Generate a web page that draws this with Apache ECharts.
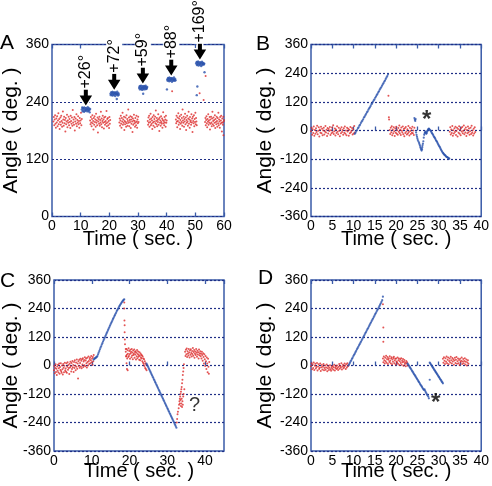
<!DOCTYPE html>
<html><head><meta charset="utf-8">
<script src="https://cdn.jsdelivr.net/npm/echarts@6/dist/echarts.min.js"></script>
<style>html,body{margin:0;padding:0;background:#fff}#c{width:492px;height:486px}</style>
</head><body><div id="c"></div>
<script>
// ---------- Panel A ----------
const aRedSpans = [[0.5,10.4],[13.3,20.3],[23.5,30.2],[33.4,40],[43.2,50.5],[53.4,60]];
const aRed1 = [199,208,191,203,212,194,186,205,197,210,189,201,216,193,204,183,198,207,192,211,200,188,196,220,203,190,209,195,202,178,206,193,199,213,187,201,196,209,191,204,198,185,211,200,194,207,190,223,197,203,192,208,180,199,205,194,214,189,202,197,210,193,200,186,206,195,201,217,191,204];
const aRed2 = [201,193,208,197,189,204,212,195,200,182,206,192,210,198,203,188,215,196,201,191,207,176,199,204,194,209,190,202,197,219,193,205,187,200,211,196,203,184,207,198,192,209,200,195,221,189,204,197,206,191,200,185,208,194,202];
const aRed3 = [197,205,190,201,211,194,186,206,199,217,192,203,196,209,181,200,193,207,198,188,212,195,204,190,200,224,196,207,189,202,198,210,185,203,194,208,199,177,205,192,201,213,195,200,188,206,197,191,211,199,186,203,195,209,198];
const aRed4 = [200,192,207,196,211,188,203,198,215,191,205,194,201,183,208,197,190,212,199,204,187,209,195,222,200,193,206,189,202,198,214,192,204,179,207,196,201,190,210,198,194,205,186,202,218,195,200,191,208,197,203,188,211,196,201];
const aRed5 = [203,195,211,199,187,207,200,216,192,205,197,210,183,202,194,213,198,206,190,224,201,196,209,188,204,199,215,193,207,181,202,196,211,199,190,205,219,194,203,186,208,198,201,192,214,197,205,177,209,200,195,212,189,204,198,217,193,206,199,191];
const aRed6 = [198,206,191,202,210,195,187,204,199,214,192,201,196,208,182,203,194,209,197,189,205,219,193,200,207,190,202,196,212,185,204,198,193,209,200,188,206,195,217,191,203,199,186,208,194,201,211,196,178,205,197,192,209,199,202];
const aRedOut = [[51.5,258],[53.6,294],[52.9,244],[41.9,262],[59.8,170]];
const aBlueSpans = [[10.4,13.3],[20.4,23.3],[30.4,33.2],[40.2,43.1],[50.3,53.1]];
const aBlue1 = [224,228,220,227,222,226,219,229,224,221,227,223,230,225,220,224,228,221,226,223,218,225];
const aBlue2 = [257,254,260,256,259,253,261,257,254,259,256,260,252,257,259,255,256,261,257,253,258,255];
const aBlue3 = [269,272,266,273,270,267,274,269,265,272,270,267,273,269,266,272,270,274,267,270,268,271];
const aBlue4 = [287,284,290,286,289,283,291,287,284,289,286,290,282,287,289,284,286,291,287,284,288,285];
const aBlue5 = [320,323,317,324,319,322,316,325,320,317,323,319,322,315,320,324,317,322,319,321,318,320];
const aBlueOut = [[22.6,246],[31.8,257],[40.1,266],[50.5,254],[50.7,272],[53.2,302]];
const aArrowT = [11.8, 21.7, 31.7, 41.6, 51.6];
const aArrowY = [224, 257, 270, 287, 320];
const aArrowLabels = ['+26°', '+72°', '+59°', '+88°', '+169°'];

// ---------- Panel B ----------
const bRed1 = [-3,12,-18,5,-10,17,-22,2,-14,9,-6,20,-16,-1,14,-25,4,-9,16,-12,7,-20,0,11,-17,-4,19,-8,3,-23,10,-13,6,-2,15,-19,1,-11,13,-7,22,-15,-3,8,-21,4,-10,18,-5,-16,11,-1,-24,6,-12,14,-6,2,-18,9,-9,17,-14,0,-20,12,-4,7,-22,3,-11,15,-7,-1,10,-17,5,-13,19,-8];
const bRed2 = [2,-15,11,-7,18,-20,4,-11,14,-3,-23,8,-9,16,-14,1,-18,10,-5,21,-12,3,-19,13,-1,-8,17,-16,6,-24,9,-10,15,-4,-17,5,-13,19,-6,-21,11,-2,-15,7,-9,16,-11,0,-19,12];
const bRed3 = [-5,14,-17,4,-10,19,-22,1,-13,9,-6,16,-19,-2,12,-25,6,-9,18,-14,3,-20,10,-4,15,-11,-1,21,-16,5,-8,13,-23,2,-12,17,-7,8,-18,-3,11,-15,20,-9,0,-21,7,-13,14,-6];
const bRedSpans = [[0,10.3],[18.5,24.3],[32.6,38.6]];
const bRedOut = [[18.2,145],[18.3,55],[18.35,46]];
const bRamp = [-14,-9,-2,2,9,13,20,24,31,37,41,47,54,58,64,70,76,80,87,93,97,103,110,113,120,126,130,137,142,148,153,160,164,171,176,181,187,193,198,205,209,216,222,228,235];
const bRampSpan = [10.3,18.1];
const bBlueMid = [[24.3,52],[24.4,45],[24.5,40],[24.6,48],[24.7,-8],[24.8,-18],[24.9,-26],[25.0,-33],[25.1,-40],[25.25,-46],[25.4,-52],[25.5,-58],[25.6,-63],[25.7,-70],[25.8,-75],[25.9,-80],[26.0,-84],[26.1,-78],[26.15,-70],[26.2,-62],[26.3,-55],[26.4,-45],[26.5,-30],[26.6,-18],[26.7,-12],[26.8,-8],[26.9,-5],[27.0,-9],[27.1,-14],[27.2,-10],[27.3,-4],[27.4,0],[27.5,3],[27.6,6],[27.7,8]];
const bDesc = [5,3,0,-3,-8,-12,-15,-19,-24,-28,-31,-36,-41,-44,-48,-53,-58,-62,-66,-70,-75,-80,-84,-88,-92,-95,-98,-101,-103,-105,-108,-110,-111,-113,-115,-117,-118];
const bDescSpan = [27.8,32.5];

// ---------- Panel C ----------
const cRed1 = [-20,-2,-33,-10,5,-27,-14,-40,-4,-22,3,-29,-12,8,-35,-6,-19,10,-24,-31,0,-16,-38,6,-9,-28,-1,12,-21,-13,-26,9,-30,-5,14,-18,2,-11,-36,7,-8,16,-3,-25,11,-15,19,-7,2,-27,15,-10,22,-1,-20,13,-5,25,-14,8,-55,18,-2,24,-9,11,28,-4,20,-12,26,4,31,-6,17,23,1,35,-3,21,29,9,-8,33,15,0,38,19,6,27,34,10,22,40,14,30,3,36,18,44];
const cRed2 = [58,38,70,45,30,64,50,36,73,40,61,47,28,66,52,58,35,69,42,55,26,63,44,50,67,33,57,46,60,25,54,39,65,31,48,59,37,44,24,56,40,22,51,33,45,30,42,18,38,12,30,6,26,-2,18,-10,10,-15,4,-20];
const cRed3 = [58,40,66,47,72,36,60,51,42,70,55,34,63,45,68,53,38,61,48,74,41,57,65,33,50,59,44,69,54,37,62,46,56,30,67,43,52,60,39,49,30,58,44,20,52,36,8,47,26,-2,40,18,-15,34,8,-28,28,-5,-35,15];
const cRedSpans = [[0,10.5],[19.0,24.5],[34.7,41.1]];
const cRedOut = [[18.6,265],[18.6,240],[18.65,190],[18.7,170],[18.7,140],[18.75,110],[18.8,90],[19.0,70],[19.1,40],[19.2,10],[19.3,-15],[19.5,-20],
  [32.5,-240],[32.6,-225],[32.7,-205],[32.8,-195],[33.0,-180],[33.1,-165],[33.2,-150],[33.3,-140],[33.3,-160],[33.4,-130],[33.5,-120],[33.5,-145],[33.6,-110],[33.7,-100],[33.7,-160],[33.8,-90],[33.8,-140],[33.9,-75],[34.0,-60],[34.0,-150],[34.1,-40],[34.2,-25],[34.2,-130],[34.3,-10],[34.4,5],[33.6,-170],[33.9,-175],[34.1,-165],[34.3,-120],[34.5,-100]];
const cRamp1 = [25,28,30,32,34,36,40,47,54,61,68,75,81,88,94,101,107,113,119,125,131,137,143,149,155,161,167,173,179,184,190,196,201,207,212,218,223,229,234,239,244,249,253,258,262,266,270,273,276,279];
const cRamp1Span = [10.5,18.6];
const cRamp2 = [8,3,-3,-8,-14,-19,-25,-30,-36,-41,-47,-52,-58,-63,-69,-74,-80,-85,-91,-96,-102,-107,-113,-118,-124,-129,-135,-140,-146,-151,-157,-162,-168,-173,-179,-184,-190,-195,-201,-206,-212,-217,-223,-228,-234,-239,-245,-250,-256,-262];
const cRamp2Span = [24.5,32.4];

// ---------- Panel D ----------
const dRed1 = [-3,9,-16,4,-10,13,-19,-1,7,-13,-6,11,-21,-4,5,-15,-9,8,-23,-7,2,-17,-5,6,-20,-11,0,-18,-8,4,-24,-12,-3,-19,-9,1,-16,-22,-6,-13,-2,-18,-7,3,-21,-10,-4,-15,0,-11,-19,-5,6,-14,-2,-8,9,-17,-4,3,-12,-6,8,-1,-15,5,-8,10,-3,1];
const dRed2 = [30,14,38,22,8,33,18,41,12,27,36,6,24,31,15,39,20,9,29,35,5,25,16,32,37,10,21,28,4,30,17,13,34,7,22,29,2,18,26,11,31,3,20,14,27,-1,16,23,6,12,-3,19,8,14,0];
const dRed3 = [28,12,35,20,6,31,16,38,9,24,34,5,19,29,13,37,22,8,32,17,26,3,21,33,11,24,36,7,18,30,10,23,2,28,15,20,34,6,17,27,9,19,31,4,16,25,0,13,22,7];
const dRedSpans = [[0,8.8],[16.9,22.7],[31.0,37.0]];
const dRedOut = [[16.9,258],[17.0,160],[17.0,100]];
const dRamp1 = [0,5,11,17,22,28,33,40,45,50,56,62,68,73,79,85,90,96,101,107,113,119,124,130,136,141,147,153,158,164,170,176,181,187,193,198,204,210,216,221,227,233,238,244,250,256,262,268,275,290];
const dRamp1Span = [8.8,16.9];
const dRamp2 = [8,4,0,-5,-9,-13,-17,-22,-26,-30,-35,-39,-43,-47,-52,-56,-60,-65,-69,-73,-78,-82,-86,-90,-95,-99,-103,-100,-106,-112,-117,-122,-126,-131,-138];
const dRamp2Span = [22.7,27.7];
const dRamp3 = [12,9,5,2,-2,-6,-9,-13,-17,-20,-24,-28,-31,-35,-38,-42,-46,-49,-53,-57,-60,-64,-68,-71,-75];
const dRamp3Span = [27.9,31.0];
const dBlueOut = [[27.9,-60]];

// ---------- annotations ----------
const bStar = [[27.2, 44]];
const cQuestion = [[37.2, -168]];
const dStar = [[29.3, -158]];

// ---------- helpers ----------
function spread(span, ys) {
  const n = ys.length;
  return ys.map((y, i) => [span[0] + (span[1] - span[0]) * i / (n - 1), y]);
}
function segs(spans, arrs) {
  let out = [];
  arrs.forEach((a, i) => { out = out.concat(spread(spans[i], a)); });
  return out;
}

const FONT = '"Liberation Sans", Arial, Helvetica, sans-serif';
const FRAME = '#3a5ba8';
const GRIDC = '#1f2f86';
const RED = '#dc2a2a';
const BLUE = '#2a52ad';

const grids = [
  {left: 52, top: 44.5, width: 172, height: 172},
  {left: 311, top: 44.5, width: 173, height: 172},
  {left: 52, top: 280, width: 172, height: 171},
  {left: 311, top: 280, width: 173, height: 171}
].map(g => Object.assign(g, {show: true, borderColor: FRAME, borderWidth: 1.5, backgroundColor: 'transparent', containLabel: false}));

function xAxes(gi, max, interval, nameGap) {
  const tick = {inside: true, length: 4, lineStyle: {color: FRAME, width: 1.3}};
  return [{
    type: 'value', gridIndex: gi, min: 0, max: max, interval: interval, position: 'bottom',
    name: 'Time ( sec. )', nameLocation: 'middle', nameGap: nameGap, nameMoveOverlap: false,
    nameTextStyle: {fontSize: 20, fontFamily: FONT, color: '#000'},
    axisLine: {show: false}, axisTick: tick,
    axisLabel: {fontSize: 14, fontFamily: FONT, color: '#000', margin: 3, showMaxLabel: max % interval === 0, showMinLabel: true},
    splitLine: {show: false}
  }, {
    type: 'value', gridIndex: gi, min: 0, max: max, interval: interval, position: 'top',
    axisLine: {show: false}, axisTick: tick, axisLabel: {show: false}, splitLine: {show: false}
  }];
}
function yAxis(gi, min, max, nameGap) {
  return {
    type: 'value', gridIndex: gi, min: min, max: max, interval: 120,
    name: 'Angle ( deg. )', nameLocation: 'middle', nameGap: nameGap, nameRotate: 90, nameMoveOverlap: false,
    nameTextStyle: {fontSize: 21, fontFamily: FONT, color: '#000'},
    axisLine: {show: false}, axisTick: {show: false},
    axisLabel: {fontSize: 14, fontFamily: FONT, color: '#000', margin: 3},
    splitLine: {show: true, lineStyle: {type: [2, 2], color: GRIDC, width: 1.2}}
  };
}

function scatter(gi, data, color, size) {
  return {type: 'scatter', xAxisIndex: gi * 2, yAxisIndex: gi, data: data, symbolSize: size,
    itemStyle: {color: color}, silent: true, animation: false, clip: false, large: false};
}
function textMark(gi, data, txt, size, bold) {
  return {type: 'scatter', xAxisIndex: gi * 2, yAxisIndex: gi, data: data, symbolSize: 0,
    label: {show: true, position: 'inside', formatter: txt, fontSize: size, fontFamily: FONT, color: '#000', fontWeight: bold ? 'bold' : 'normal'},
    silent: true, animation: false, z: 6};
}

function arrowPts(x, tip, hw, hh, sw, sh) {
  return [[x, tip], [x - hw / 2, tip - hh], [x - sw / 2, tip - hh], [x - sw / 2, tip - hh - sh],
          [x + sw / 2, tip - hh - sh], [x + sw / 2, tip - hh], [x + hw / 2, tip - hh]];
}

const series = [
  scatter(0, segs(aRedSpans, [aRed1, aRed2, aRed3, aRed4, aRed5, aRed6]).concat(aRedOut), RED, 2),
  scatter(0, segs(aBlueSpans, [aBlue1, aBlue2, aBlue3, aBlue4, aBlue5]).concat(aBlueOut), BLUE, 2.4),
  {
    type: 'custom', xAxisIndex: 0, yAxisIndex: 0, clip: false, z: 5, silent: true, animation: false,
    data: aArrowT.map((t, i) => [t, aArrowY[i]]),
    renderItem: function (params, api) {
      const p = api.coord([api.value(0), api.value(1)]);
      const x = p[0], tip = p[1] - 4;
      const hh = 10, hw = 12.5, sh = 6, sw = 4;
      const pts = arrowPts(x, tip, hw, hh, sw, sh);
      return {type: 'group', children: [
        {type: 'polygon', shape: {points: pts}, style: {fill: '#fff', stroke: '#fff', lineWidth: 3, lineJoin: 'round'}},
        {type: 'polygon', shape: {points: pts}, style: {fill: '#000'}},
        {type: 'text', x: x, y: tip - hh - sh, rotation: Math.PI / 2,
          style: {text: aArrowLabels[params.dataIndex], fontSize: 16, fontFamily: FONT, fill: '#000', align: 'left', verticalAlign: 'middle', backgroundColor: '#fff', padding: [0, 1, 0, 1]}}
      ]};
    }
  },
  scatter(1, segs(bRedSpans, [bRed1, bRed2, bRed3]).concat(bRedOut), RED, 2),
  scatter(1, spread(bRampSpan, bRamp).concat(bBlueMid, spread(bDescSpan, bDesc)), BLUE, 2.2),
  textMark(1, bStar, '*', 24, true),
  scatter(2, segs(cRedSpans, [cRed1, cRed2, cRed3]).concat(cRedOut), RED, 2),
  scatter(2, spread(cRamp1Span, cRamp1).concat(spread(cRamp2Span, cRamp2)), BLUE, 2.2),
  textMark(2, cQuestion, '?', 20, false),
  scatter(3, segs(dRedSpans, [dRed1, dRed2, dRed3]).concat(dRedOut), RED, 2),
  scatter(3, spread(dRamp1Span, dRamp1).concat(spread(dRamp2Span, dRamp2), spread(dRamp3Span, dRamp3), dBlueOut), BLUE, 2.2),
  textMark(3, dStar, '*', 24, true)
];

const letters = [['A', 0, 44], ['B', 256, 45], ['C', 0, 281.5], ['D', 258, 278.5]];

const chart = echarts.init(document.getElementById('c'), null, {renderer: 'canvas'});
chart.setOption({
  animation: false,
  backgroundColor: '#fff',
  grid: grids,
  xAxis: [].concat(xAxes(0, 60, 10, 13), xAxes(1, 40, 5, 13), xAxes(2, 45, 10, 10), xAxes(3, 40, 5, 10)),
  yAxis: [yAxis(0, 0, 360, 30), yAxis(1, -360, 360, 35), yAxis(2, -360, 360, 32), yAxis(3, -360, 360, 35)],
  graphic: letters.map(l => ({type: 'text', left: l[1], top: l[2] - 11, style: {text: l[0], fontSize: 21, fontFamily: FONT, fill: '#000'}})),
  series: series
});
</script>
</body></html>
